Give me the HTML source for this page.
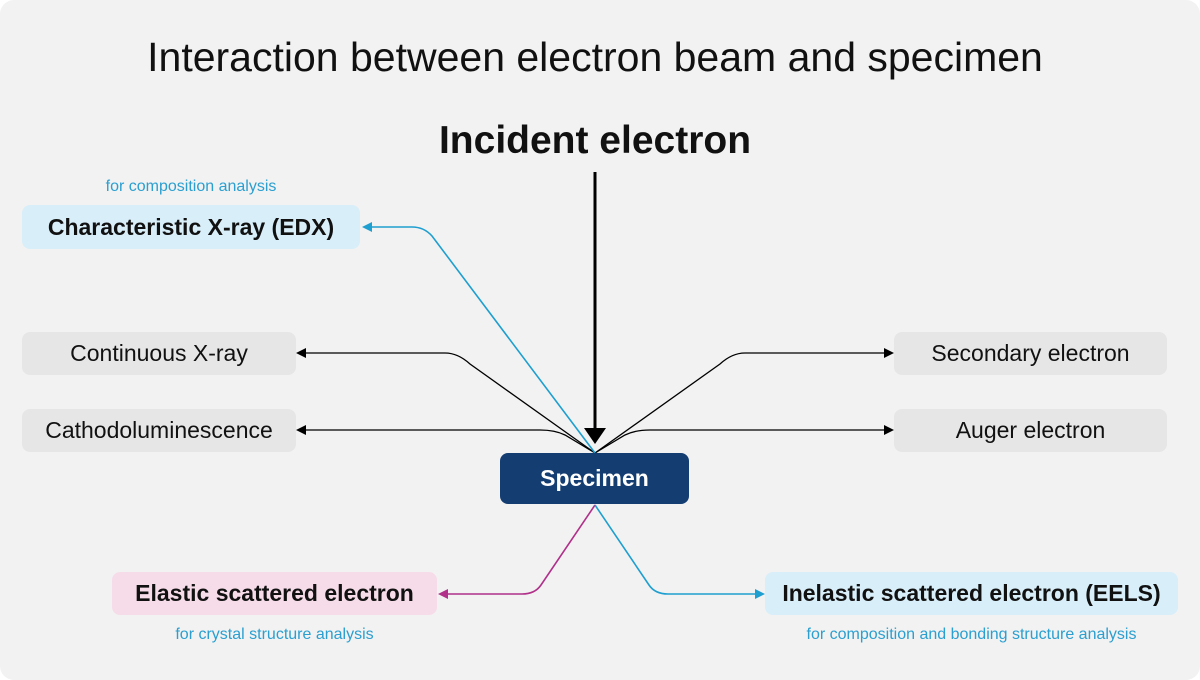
<!DOCTYPE html>
<html><head><meta charset="utf-8"><style>
html,body{margin:0;padding:0;background:#fff}
.c{position:relative;width:1200px;height:680px;background:#f2f2f2;border-radius:14px;overflow:hidden;font-family:"Liberation Sans",sans-serif}
.t{position:absolute;left:0;width:1200px;text-align:center;color:#111}
.b{position:absolute;border-radius:8px;display:flex;align-items:center;justify-content:center;font-size:23px;color:#111}
.g{background:#e6e6e6}
.bl{background:#d8eef9;font-weight:bold}
.pk{background:#f6dce9;font-weight:bold}
.s{position:absolute;font-size:16px;color:#2a9fd0;text-align:center}
svg{position:absolute;left:0;top:0}
</style></head><body><div class="c">
<div class="t" style="top:34px;font-size:41px;left:-5px">Interaction between electron beam and specimen</div>
<div class="t" style="top:119px;font-size:39px;font-weight:bold;left:-5px">Incident electron</div>
<svg width="1200" height="680">
<defs>
<marker id="ak" markerWidth="10" markerHeight="10" refX="8" refY="5" orient="auto" markerUnits="userSpaceOnUse"><path d="M0,0 L10,5 L0,10z" fill="#000"/></marker>
<marker id="ab" markerWidth="10" markerHeight="10" refX="8" refY="5" orient="auto" markerUnits="userSpaceOnUse"><path d="M0,0 L10,5 L0,10z" fill="#1e9fd0"/></marker>
<marker id="ap" markerWidth="10" markerHeight="10" refX="8" refY="5" orient="auto" markerUnits="userSpaceOnUse"><path d="M0,0 L10,5 L0,10z" fill="#b0308a"/></marker>
</defs>
<g fill="none" stroke-width="1.3">
<path d="M595,453 L470,364 Q458,353 445,353 L298,353" stroke="#000" marker-end="url(#ak)"/>
<path d="M595,453 L565,435 Q555,430 540,430 L298,430" stroke="#000" marker-end="url(#ak)"/>
<path d="M595,453 L720,364 Q732,353 745,353 L892,353" stroke="#000" marker-end="url(#ak)"/>
<path d="M595,453 L625,435 Q635,430 650,430 L892,430" stroke="#000" marker-end="url(#ak)"/>
<path d="M595,453 L432,236 Q424,227 412,227 L364,227" stroke="#1e9fd0" stroke-width="1.6" marker-end="url(#ab)"/>
<path d="M595,505 L541,585 Q535,594 522,594 L440,594" stroke="#b0308a" stroke-width="1.6" marker-end="url(#ap)"/>
<path d="M595,505 L649,585 Q655,594 668,594 L763,594" stroke="#1e9fd0" stroke-width="1.6" marker-end="url(#ab)"/>
<path d="M595,172 L595,428" stroke="#000" stroke-width="3"/>
<path d="M584,428 L606,428 L595,444z" fill="#000" stroke="none"/>
</g>
</svg>
<div class="s" style="left:22px;width:338px;top:178px">for composition analysis</div>
<div class="b bl" style="left:22px;top:205px;width:338px;height:44px">Characteristic X-ray (EDX)</div>
<div class="b g" style="left:22px;top:332px;width:274px;height:43px">Continuous X-ray</div>
<div class="b g" style="left:22px;top:409px;width:274px;height:43px">Cathodoluminescence</div>
<div class="b g" style="left:894px;top:332px;width:273px;height:43px">Secondary electron</div>
<div class="b g" style="left:894px;top:409px;width:273px;height:43px">Auger electron</div>
<div class="b" style="left:500px;top:453px;width:189px;height:51px;background:#143d72;color:#fff;font-weight:bold">Specimen</div>
<div class="b pk" style="left:112px;top:572px;width:325px;height:43px">Elastic scattered electron</div>
<div class="s" style="left:112px;width:325px;top:626px">for crystal structure analysis</div>
<div class="b bl" style="left:765px;top:572px;width:413px;height:43px">Inelastic scattered electron (EELS)</div>
<div class="s" style="left:765px;width:413px;top:626px">for composition and bonding structure analysis</div>
</div></body></html>
